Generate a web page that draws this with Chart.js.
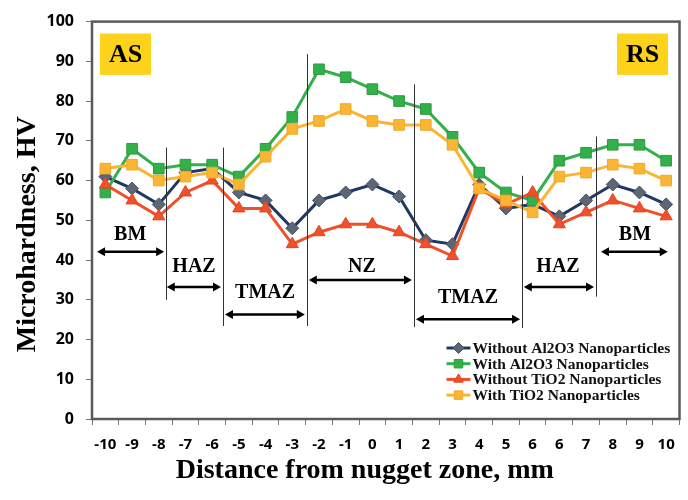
<!DOCTYPE html>
<html>
<head>
<meta charset="utf-8">
<script src="https://cdn.jsdelivr.net/npm/chart.js@4.4.1/dist/chart.umd.min.js"></script>
<style>
html,body{margin:0;padding:0;background:#fff;}
</style>
</head>
<body>
<canvas id="chart" width="688" height="500"></canvas>
<script>
// --- Data ---
const distLabels = ['-10','-9','-8','-7','-6','-5','-4','-3','-2','-1','0','1','2','3','4','5','6','6','7','8','9','10'];
const withoutAl2O3 = [61,58,54,62,63,57,55,48,55,57,59,56,45,44,59,53,54,51,55,59,57,54];
const withAl2O3    = [57,68,63,64,64,61,68,76,88,86,83,80,78,71,62,57,55,65,67,69,69,65];
const withoutTiO2  = [59,55,51,57,60,53,53,44,47,49,49,47,44,41,58,54,57,49,52,55,53,51];
const withTiO2     = [63,64,60,61,62,59,66,73,75,78,75,74,74,69,58,55,52,61,62,64,63,60];
const yTicks = [0,10,20,30,40,50,60,70,80,90,100];

// zone annotations, in axis units (x = category index, y = HV)
const zoneLines = [[2.27,68.3,30],[4.4,68.3,23.4],[7.55,91.8,23.4],[11.56,84.2,23.1],[15.6,61.2,22.9],[18.37,71.1,30.8]];
const zoneArrows = [[-0.31,2.2,42.1],[2.3,4.33,33.2],[4.48,7.47,26.3],[7.62,11.48,35],[11.63,15.53,25.1],[15.67,18.3,33.2],[18.56,21.06,42.1]];
const zoneTexts = [['BM',0.93,46.3],['HAZ',3.32,38.4],['TMAZ',5.98,31.8],['NZ',9.61,38.2],['TMAZ',13.58,30.5],['HAZ',16.95,38.2],['BM',19.83,46.3]];
const sideBoxes = [['AS',-0.2,1.71],['RS',19.16,21.07]];

const SERIF = "'Liberation Serif','DejaVu Serif',serif";
const SANS = "'Open Sans','Noto Sans',sans-serif";

function arrow(ctx,x1,x2,y){
  const h=8,w=4.5;
  ctx.beginPath();ctx.moveTo(x1+h-1,y);ctx.lineTo(x2-h+1,y);ctx.stroke();
  ctx.beginPath();ctx.moveTo(x1,y);ctx.lineTo(x1+h,y-w);ctx.lineTo(x1+h,y+w);ctx.closePath();ctx.fill();
  ctx.beginPath();ctx.moveTo(x2,y);ctx.lineTo(x2-h,y-w);ctx.lineTo(x2-h,y+w);ctx.closePath();ctx.fill();
}

const notes = {
  id:'notes',
  afterDatasetsDraw(chart){
    const {ctx,chartArea:a,scales:{x,y}} = chart;
    ctx.save();
    // zone boundaries
    ctx.strokeStyle='#333';ctx.lineWidth=1;
    zoneLines.forEach(([i,y1,y2])=>{
      const px=Math.round(x.getPixelForValue(i))+0.5;
      ctx.beginPath();ctx.moveTo(px,y.getPixelForValue(y1));ctx.lineTo(px,y.getPixelForValue(y2));ctx.stroke();
    });
    ctx.strokeStyle='#000';ctx.fillStyle='#000';ctx.lineWidth=2.5;
    zoneArrows.forEach(([i1,i2,v])=>arrow(ctx,x.getPixelForValue(i1),x.getPixelForValue(i2),y.getPixelForValue(v)));
    ctx.font='bold 20px '+SERIF;ctx.textAlign='center';ctx.textBaseline='middle';
    zoneTexts.forEach(([t,i,v])=>ctx.fillText(t,x.getPixelForValue(i),y.getPixelForValue(v)));
    // AS / RS boxes
    sideBoxes.forEach(([t,i1,i2])=>{
      const x1=x.getPixelForValue(i1),x2=x.getPixelForValue(i2);
      const y1=y.getPixelForValue(97),y2=y.getPixelForValue(86.6);
      ctx.fillStyle='#fcd21a';ctx.fillRect(x1,y1,x2-x1,y2-y1);
      ctx.fillStyle='#000';ctx.font='bold 26px '+SERIF;
      ctx.fillText(t,(x1+x2)/2,(y1+y2)/2+1);
    });
    // legend
    ctx.font='bold 15.5px '+SERIF;ctx.textAlign='left';
    chart.data.datasets.forEach((ds,k)=>{
      const ly=a.bottom-71+k*15.7, lx=a.right-233;
      ctx.strokeStyle=ds.borderColor;ctx.lineWidth=3;
      ctx.beginPath();ctx.moveTo(lx,ly);ctx.lineTo(lx+24,ly);ctx.stroke();
      ctx.fillStyle=ds.pointBackgroundColor;ctx.strokeStyle=ds.pointBorderColor;ctx.lineWidth=1;
      Chart.helpers.drawPoint(ctx,{pointStyle:ds.pointStyle,radius:ds.pointStyle==='rect'?6:5.5,rotation:0,borderWidth:1},lx+12,ly);
      ctx.fillStyle='#111';
      ctx.fillText(ds.label,lx+26,ly+1);
    });
    ctx.restore();
  },
  afterDraw(chart){
    const {ctx,chartArea:a} = chart;
    ctx.save();
    ctx.strokeStyle='#5a5a5a';ctx.lineWidth=2.5;
    ctx.strokeRect(a.left,a.top,a.right-a.left,a.bottom-a.top);
    // axis titles
    ctx.fillStyle='#000';ctx.font='bold 28px '+SERIF;ctx.textAlign='center';ctx.textBaseline='middle';
    ctx.fillText('Distance from nugget zone, mm',(a.left+a.right)/2-21,471);
    ctx.translate(28,(a.top+a.bottom)/2+14);ctx.rotate(-Math.PI/2);
    ctx.fillText('Microhardness, HV',0,0);
    ctx.restore();
  }
};

function series(label,data,line,fill,edge,style,r,order){
  return {label,data,borderColor:line,backgroundColor:fill,pointBackgroundColor:fill,pointBorderColor:edge,
    pointStyle:style,pointRadius:r,pointBorderWidth:1,borderWidth:3,tension:0,order};
}

new Chart(document.getElementById('chart'),{
  type:'line',
  data:{
    labels:distLabels,
    datasets:[
      series('Without Al2O3 Nanoparticles',withoutAl2O3,'#1f3864','#5d6675','#4b5462','rectRot',6.5,3),
      series('With Al2O3 Nanoparticles',withAl2O3,'#34b04b','#34b04b','#2c9a41','rect',7.5,2),
      series('Without TiO2 Nanoparticles',withoutTiO2,'#f0502a','#f0502a','#e04422','triangle',7,1),
      series('With TiO2 Nanoparticles',withTiO2,'#fbb534','#fbb534','#f0a828','rect',7.5,0)
    ]
  },
  options:{
    responsive:false,
    animation:false,
    devicePixelRatio:1,
    layout:{padding:{top:15,right:8,left:0,bottom:0}},
    plugins:{legend:{display:false},tooltip:{enabled:false}},
    scales:{
      x:{
        type:'category',
        offset:true,
        grid:{offset:true,drawOnChartArea:false,drawTicks:true,tickLength:6,color:'#777'},
        border:{display:false},
        ticks:{autoSkip:false,maxRotation:0,padding:11,color:'#000',font:{family:SANS,size:15,weight:'bold'}},
        afterFit(s){s.height=81;}
      },
      y:{
        min:0,max:100,
        afterBuildTicks(s){s.ticks=yTicks.map(v=>({value:v}));},
        grid:{drawOnChartArea:false,tickLength:6,color:'#777'},
        border:{display:false},
        ticks:{padding:12,color:'#000',font:{family:SANS,size:16,weight:'bold'}},
        afterFit(s){s.width=92;}
      }
    }
  },
  plugins:[notes]
});
</script>
</body>
</html>
